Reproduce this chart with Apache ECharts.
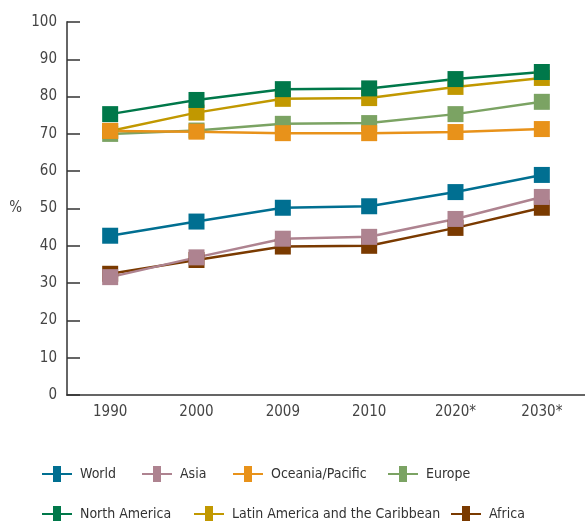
<!DOCTYPE html>
<html>
<head>
<meta charset="utf-8">
<script src="https://cdn.jsdelivr.net/npm/echarts@6/dist/echarts.min.js"></script>
<style>
  html, body { margin: 0; padding: 0; background: #fff; }
  #chart { width: 585px; height: 521px; }
</style>
</head>
<body>
<div id="chart"></div>
<script>
// categories + series values (percent)
const years = ['1990', '2000', '2009', '2010', '2020*', '2030*']

const world = [42.7, 46.5, 50.2, 50.6, 54.4, 59.0]
const asia = [31.6, 36.9, 41.9, 42.4, 47.2, 53.1]
const oceania = [70.8, 70.6, 70.2, 70.2, 70.5, 71.3]
const europe = [70.0, 70.9, 72.7, 72.9, 75.3, 78.6]
const northAmerica = [75.3, 79.1, 82.0, 82.2, 84.7, 86.6]
const latinAmerica = [70.8, 75.7, 79.4, 79.6, 82.6, 85.0]
const africa = [32.5, 36.2, 39.8, 40.0, 44.8, 50.2]

const font = "'Liberation Sans Narrow', 'DejaVu Sans Condensed', sans-serif"

// 系列（绘制顺序决定覆盖关系）
const seriesList = [
  { name: 'Africa', data: africa, color: '#7a3a00' },
  { name: 'Asia', data: asia, color: '#ae8390' },
  { name: 'World', data: world, color: '#006f91' },
  { name: 'Europe', data: europe, color: '#7ba363' },
  { name: 'Latin America and the Caribbean', data: latinAmerica, color: '#c19800' },
  { name: 'Oceania/Pacific', data: oceania, color: '#e8921a' },
  { name: 'North America', data: northAmerica, color: '#00784a' }
]

// 图例位置（两行）
const legendSlots = [
  ['World', 42, 466], ['Asia', 142, 466], ['Oceania/Pacific', 233, 466], ['Europe', 388, 466],
  ['North America', 42, 506], ['Latin America and the Caribbean', 194, 506], ['Africa', 451, 506]
]

const legendList = legendSlots.map(([name, left, top]) => ({
  data: [name],
  left: left,
  top: top,
  padding: 0,
  itemWidth: 30,
  itemHeight: 16,
  icon: 'path://M0,7L11,7L11,0L19,0L19,7L30,7L30,9L19,9L19,16L11,16L11,9L0,9Z',
  textStyle: { fontFamily: font, fontSize: 14, color: '#333', padding: [0, 0, 0, 3] }
}))

const chart = echarts.init(document.getElementById('chart'))
chart.setOption({
  animation: false,
  textStyle: { fontFamily: font },
  grid: { left: 67, right: -6, top: 22, bottom: 126 },
  legend: legendList,
  xAxis: {
    type: 'category',
    data: years,
    boundaryGap: true,
    axisLine: { lineStyle: { color: '#333', width: 1.5 } },
    axisTick: { inside: true, length: 10, lineStyle: { color: '#333', width: 1.5 } },
    axisLabel: { fontSize: 15, color: '#444', margin: 10 }
  },
  yAxis: {
    type: 'value',
    min: 0,
    max: 100,
    interval: 10,
    name: '%',
    nameLocation: 'middle',
    nameRotate: 0,
    nameGap: 45,
    nameTextStyle: { fontSize: 15, color: '#444' },
    axisLine: { show: true, lineStyle: { color: '#666', width: 2 } },
    axisTick: { show: true, inside: true, length: 13, lineStyle: { color: '#333', width: 1.5 } },
    axisLabel: { fontSize: 15, color: '#444', margin: 10 },
    splitLine: { show: false }
  },
  series: seriesList.map(s => ({
    name: s.name,
    type: 'line',
    data: s.data,
    symbol: 'rect',
    symbolSize: 16,
    showAllSymbol: true,
    color: s.color,
    lineStyle: { width: 2.5, color: s.color },
    itemStyle: { color: s.color, opacity: 1 }
  }))
})
</script>
</body>
</html>
